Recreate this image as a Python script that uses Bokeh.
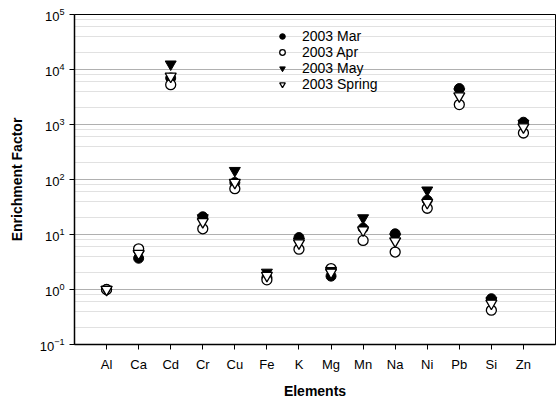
from bokeh.plotting import figure
from bokeh.models import FixedTicker, Range1d, Legend, LegendItem, LogTicker
from bokeh.embed import file_html
from bokeh.resources import INLINE

elements = ["Al", "Ca", "Cd", "Cr", "Cu", "Fe", "K", "Mg", "Mn", "Na", "Ni", "Pb", "Si", "Zn"]
mar = [1.0, 3.7, 7000, 21, 88, 1.65, 8.8, 1.75, 13, 10.3, 42, 4500, 0.68, 1100]
apr = [1.0, 5.5, 5300, 12.7, 68, 1.5, 5.4, 2.4, 7.8, 4.8, 30, 2300, 0.42, 700]
may = [1.0, 4.4, 12500, 20, 145, 2.05, 7.5, 2.2, 20, 9.0, 64, 3900, 0.62, 1050]
spring = [1.0, 4.5, 7500, 17, 88, 1.8, 7.0, 2.05, 12, 7.6, 38, 3300, 0.56, 900]
series_labels = ["2003 Mar", "2003 Apr", "2003 May", "2003 Spring"]

xs = list(range(1, len(elements) + 1))
font = "Liberation Sans"

p = figure(width=557, height=401, y_axis_type="log", output_backend="svg",
           toolbar_location=None, x_range=Range1d(0, 15), y_range=Range1d(0.1, 1e5),
           min_border_left=74, min_border_right=2, min_border_top=14, min_border_bottom=56)
p.background_fill_color = "white"
p.border_fill_color = "white"
p.outline_line_color = "black"
p.outline_line_width = 1

r1 = p.scatter(xs, mar, marker="circle", size=10, fill_color="black", line_color="black")
r2 = p.scatter(xs, apr, marker="circle", size=10, fill_color="white", line_color="black", line_width=1.3)
r3 = p.scatter(xs, may, marker="inverted_triangle", size=11, fill_color="black", line_color="black")
r4 = p.scatter(xs, spring, marker="inverted_triangle", size=11, fill_color="white", line_color="black", line_width=1.3)

legend = Legend(items=[LegendItem(label=series_labels[0], renderers=[r1]),
                       LegendItem(label=series_labels[1], renderers=[r2]),
                       LegendItem(label=series_labels[2], renderers=[r3]),
                       LegendItem(label=series_labels[3], renderers=[r4])],
                location=(201, 252), border_line_color=None, background_fill_alpha=0,
                label_text_font=font, label_text_font_size="14px", label_text_color="black",
                spacing=0, glyph_height=16, label_height=16,
                glyph_width=14, label_standoff=13, padding=4)
p.add_layout(legend)

p.xaxis.ticker = FixedTicker(ticks=xs)
p.xaxis.major_label_overrides = {x: e for x, e in zip(xs, elements)}
p.xaxis.minor_tick_line_color = None
p.xaxis.major_tick_out = 5
p.xaxis.major_tick_in = 0
p.xaxis.major_label_standoff = 7
p.xaxis.axis_label = "Elements"
p.yaxis.axis_label = "Enrichment Factor"
for ax in (p.xaxis, p.yaxis):
    ax.axis_label_text_font = font
    ax.axis_label_text_font_style = "bold"
    ax.axis_label_text_font_size = "14px"
    ax.axis_label_text_color = "black"
    ax.major_label_text_font = font
    ax.major_label_text_font_size = "13px"
    ax.major_label_text_color = "black"
    ax.axis_line_color = "black"
    ax.axis_line_width = 1.5
    ax.major_tick_line_color = "black"
p.xaxis.axis_label_standoff = 8
p.yaxis.axis_label_standoff = 12
p.yaxis.ticker = LogTicker(desired_num_ticks=7)
p.yaxis.minor_tick_line_color = None
p.yaxis.major_tick_out = 5
p.yaxis.major_tick_in = 0

p.xgrid.grid_line_color = None
p.ygrid.grid_line_color = "#777777"
p.ygrid.grid_line_dash = "1 1"
p.ygrid.grid_line_alpha = 0.9
p.ygrid.minor_grid_line_color = "#999999"
p.ygrid.minor_grid_line_dash = "1 1"
p.ygrid.minor_grid_line_alpha = 0.6

open("out.html", "w").write(file_html(p, INLINE))
